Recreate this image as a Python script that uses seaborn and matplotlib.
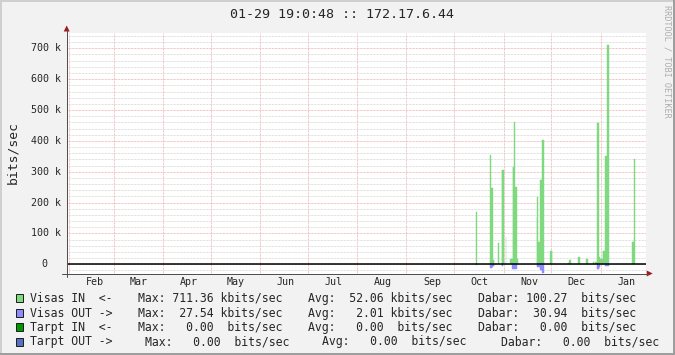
import numpy as np
import pandas as pd
import matplotlib
matplotlib.use("Agg")
import matplotlib.pyplot as plt
import matplotlib.dates as mdates
import matplotlib.transforms as mtransforms
from matplotlib.patches import Rectangle, Polygon
from matplotlib.lines import Line2D
import seaborn as sns

# ---------------- data ----------------
title = "01-29 19:0:48 :: 172.17.6.44"
y_label = "bits/sec"
watermark = "RRDTOOL / TOBI OETIKER"

month_starts = ["2013-02-01", "2013-03-01", "2013-04-01", "2013-05-01", "2013-06-01",
                "2013-07-01", "2013-08-01", "2013-09-01", "2013-10-01", "2013-11-01",
                "2013-12-01", "2014-01-01"]
month_labels = ["Feb", "Mar", "Apr", "May", "Jun", "Jul", "Aug", "Sep", "Oct", "Nov", "Dec", "Jan"]
x_range = ["2013-01-30 18:00", "2014-01-29 12:00"]

y_ticks = [0, 100000, 200000, 300000, 400000, 500000, 600000, 700000]
y_tick_labels = ["0", "100 k", "200 k", "300 k", "400 k", "500 k", "600 k", "700 k"]

in_times = [
    "2013-10-15 00:00", "2013-10-24 00:00", "2013-10-24 12:00", "2013-10-25 00:00",
    "2013-10-25 12:00", "2013-10-26 00:00", "2013-10-29 00:00", "2013-10-31 00:00",
    "2013-10-31 12:00", "2013-11-01 00:00", "2013-11-02 12:00", "2013-11-05 12:00",
    "2013-11-06 00:00", "2013-11-06 12:00", "2013-11-07 00:00", "2013-11-07 12:00",
    "2013-11-08 00:00", "2013-11-08 12:00", "2013-11-09 00:00", "2013-11-09 12:00",
    "2013-11-10 00:00", "2013-11-22 00:00", "2013-11-22 12:00", "2013-11-23 00:00",
    "2013-11-23 12:00", "2013-11-24 00:00", "2013-11-24 12:00", "2013-11-25 00:00",
    "2013-11-25 12:00", "2013-11-26 00:00", "2013-11-30 12:00", "2013-12-01 00:00",
    "2013-12-01 12:00", "2013-12-11 12:00", "2013-12-12 00:00", "2013-12-12 12:00",
    "2013-12-13 00:00", "2013-12-18 00:00", "2013-12-18 12:00", "2013-12-23 00:00",
    "2013-12-23 12:00", "2013-12-27 12:00", "2013-12-29 00:00", "2013-12-29 12:00",
    "2013-12-30 00:00", "2013-12-30 12:00", "2013-12-31 00:00", "2013-12-31 12:00",
    "2014-01-01 00:00", "2014-01-01 12:00", "2014-01-02 00:00", "2014-01-02 12:00",
    "2014-01-03 00:00", "2014-01-03 12:00", "2014-01-04 00:00", "2014-01-04 12:00",
    "2014-01-05 00:00", "2014-01-05 12:00", "2014-01-06 00:00", "2014-01-21 00:00",
    "2014-01-21 12:00", "2014-01-22 00:00", "2014-01-22 12:00",
]
in_kbps = [
    170, 354, 247, 247,
    14, 14, 69, 305,
    305, 305, 87, 18,
    18, 18, 316, 316,
    461, 250, 250, 18,
    18, 150, 219, 72,
    72, 273, 273, 273,
    403, 403, 43, 43,
    43, 3, 3, 14,
    14, 24, 24, 17,
    17, 9, 9, 9,
    458, 458, 24, 24,
    16, 16, 16, 43,
    43, 43, 351, 351,
    351, 711, 711, 72,
    72, 72, 341,
]

out_times = [
    "2013-10-15 00:00", "2013-10-24 00:00", "2013-10-24 12:00", "2013-10-25 00:00",
    "2013-10-25 12:00", "2013-10-26 00:00", "2013-10-31 00:00", "2013-10-31 12:00",
    "2013-11-06 12:00", "2013-11-07 00:00", "2013-11-07 12:00", "2013-11-08 00:00",
    "2013-11-08 12:00", "2013-11-09 00:00", "2013-11-22 00:00", "2013-11-22 12:00",
    "2013-11-23 00:00", "2013-11-23 12:00", "2013-11-24 00:00", "2013-11-24 12:00",
    "2013-11-25 00:00", "2013-11-25 12:00", "2013-11-26 00:00", "2013-12-30 00:00",
    "2013-12-30 12:00", "2013-12-31 00:00", "2013-12-31 12:00", "2014-01-04 00:00",
    "2014-01-04 12:00", "2014-01-05 00:00", "2014-01-05 12:00", "2014-01-06 00:00",
]
out_kbps = [
    -3, -11, -11, -9,
    -7, -7, -4, -4,
    -14, -14, -14, -14,
    -14, -14, -4, -10,
    -10, -10, -17, -17,
    -17, -27, -27, -14,
    -14, -14, -8, -7,
    -7, -7, -7, -7,
]

legend_names = ["Visas IN  <-", "Visas OUT ->", "Tarpt IN  <-", "Tarpt OUT ->"]
legend_max = ["Max: 711.36 kbits/sec", "Max:  27.54 kbits/sec",
              "Max:   0.00  bits/sec", "Max:   0.00  bits/sec"]
legend_avg = ["Avg:  52.06 kbits/sec", "Avg:   2.01 kbits/sec",
              "Avg:   0.00  bits/sec", "Avg:   0.00  bits/sec"]
legend_dabar = ["Dabar: 100.27  bits/sec", "Dabar:  30.94  bits/sec",
                "Dabar:   0.00  bits/sec", "Dabar:   0.00  bits/sec"]

# ---------------- style ----------------
C_IN = "#7FD97F"
C_OUT = "#8C8CFF"
C_TIN = "#009900"
C_TOUT = "#5770C2"
legend_colors = [C_IN, C_OUT, C_TIN, C_TOUT]
BG = "#F2F2F2"
MONO = "DejaVu Sans Mono"

sns.set_style("white")
plt.rcParams["font.family"] = [MONO, "DejaVu Sans"]

W, H = 675, 355
fig = plt.figure(figsize=(W / 100, H / 100), dpi=100, facecolor=BG)
ax = fig.add_axes([67 / W, 1 - 273.5 / H, 579 / W, 241 / H])
ax.set_facecolor("white")

df_in = pd.DataFrame({"t": mdates.date2num(pd.to_datetime(in_times)),
                      "v": np.array(in_kbps, dtype=float) * 1000})
df_out = pd.DataFrame({"t": mdates.date2num(pd.to_datetime(out_times)),
                       "v": np.array(out_kbps, dtype=float) * 1000})

sns.barplot(data=df_in, x="t", y="v", native_scale=True, orient="x", width=1.0,
            color=C_IN, saturation=1, errorbar=None, linewidth=0.3, edgecolor=C_IN, ax=ax)
sns.barplot(data=df_out, x="t", y="v", native_scale=True, orient="x", width=1.0,
            color=C_OUT, saturation=1, errorbar=None, linewidth=0.3, edgecolor=C_OUT, ax=ax)

ax.axhline(0, color="black", lw=1.1, zorder=3)

xs = mdates.date2num(pd.to_datetime(x_range))
ax.set_xlim(xs[0], xs[1])
ax.set_ylim(-29800, 751200)
ax.set_xlabel("")
ax.set_ylabel("")

mstart = mdates.date2num(pd.to_datetime(month_starts))
ax.set_xticks(mstart)
ax.set_xticklabels([])
ax.set_xticks(mstart + 16, minor=True)
ax.set_xticklabels(month_labels, minor=True, fontsize=7.2, family=MONO)
ax.set_yticks(y_ticks)
ax.set_yticklabels([])
ax.set_yticks(np.arange(-20000, 750001, 20000), minor=True)

ax.tick_params(axis="x", which="major", length=2.0, width=0.72, direction="out", color="#505050")
ax.tick_params(axis="x", which="minor", length=0, pad=2.2)
ax.tick_params(axis="y", which="major", length=2.0, width=0.72, direction="out", color="#505050")
ax.tick_params(axis="y", which="minor", length=0)

dot = (0, (0.72, 0.72))
ax.set_axisbelow(True)
ax.grid(which="minor", axis="y", color="#D6D6D6", lw=0.72, linestyle=dot)
ax.grid(which="major", axis="y", color="#F2B0B0", lw=0.72, linestyle=dot)
ax.grid(which="major", axis="x", color="#F2B0B0", lw=0.72, linestyle=dot)
for s in ax.spines.values():
    s.set_visible(False)

for v, lab in zip(y_ticks, y_tick_labels):
    off = -6.3 if lab.endswith("k") else -19.3
    tr = mtransforms.offset_copy(ax.get_yaxis_transform(), fig=fig, x=off, y=0, units="dots")
    ax.text(0, v, lab, transform=tr, ha="right", va="center", fontsize=7.2,
            family=MONO, clip_on=False)

# ---------------- overlay decorations (pixel coordinates) ----------------
ov = fig.add_axes([0, 0, 1, 1])
ov.set_xlim(0, W)
ov.set_ylim(H, 0)
ov.axis("off")
ov.patch.set_alpha(0)

px = 0.72
ov.add_line(Line2D([0, W], [1, 1], color="#CFCFCF", lw=2 * px))
ov.add_line(Line2D([1, 1], [0, H], color="#CFCFCF", lw=2 * px))
ov.add_line(Line2D([W - 1.5, W - 1.5], [0, H], color="#9E9E9E", lw=3 * px))
ov.add_line(Line2D([0, W], [H - 1.5, H - 1.5], color="#9E9E9E", lw=3 * px))

AX_C = "#505050"
ARROW_C = "#9E1B1B"
ov.add_line(Line2D([66.7, 66.7], [276.5, 30], color=AX_C, lw=px))
ov.add_line(Line2D([62, 648], [273.5, 273.5], color=AX_C, lw=px))
ov.add_patch(Polygon([(63.7, 31.5), (69.7, 31.5), (66.7, 25.5)], closed=True, color=ARROW_C, lw=0))
ov.add_patch(Polygon([(646.7, 270.5), (646.7, 276.5), (652.7, 273.5)], closed=True, color=ARROW_C, lw=0))

ov.text(342, 14, title, ha="center", va="center", fontsize=9.6, family=MONO)
ov.text(12.5, 153, y_label, ha="center", va="center", rotation=90, fontsize=9.4, family=MONO)
ov.text(666.5, 5, watermark, ha="center", va="top", rotation=270, fontsize=6.1,
        family=MONO, color="#ADADAD")

row_y = [298.3, 313.3, 327.3, 341.7]
max_x = [137.7, 137.7, 137.7, 145.0]
avg_x = [308.5, 308.5, 308.5, 322.3]
dab_x = [478.0, 478.0, 478.0, 500.6]
for i in range(4):
    y = row_y[i]
    ov.add_patch(Rectangle((15.7, y - 4), 7, 8, facecolor=legend_colors[i],
                           edgecolor="#202020", lw=px))
    for x, s in [(30.4, legend_names[i]), (max_x[i], legend_max[i]),
                 (avg_x[i], legend_avg[i]), (dab_x[i], legend_dabar[i])]:
        ov.text(x, y, s, ha="left", va="center", fontsize=8.3, family=MONO)

fig.savefig("out.png", dpi=100, facecolor=BG)
